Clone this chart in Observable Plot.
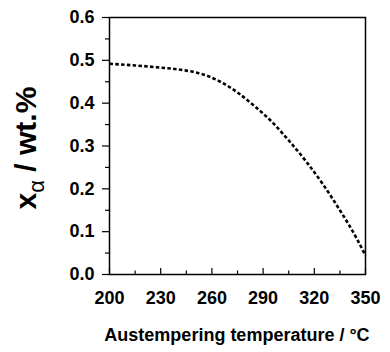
<!DOCTYPE html>
<html><head><meta charset="utf-8">
<script src="https://cdn.jsdelivr.net/npm/d3@7"></script>
<script src="https://cdn.jsdelivr.net/npm/@observablehq/plot@0.6"></script>
<style>
body{margin:0;background:#fff}
svg{font-family:"Liberation Sans",Arial,Helvetica,sans-serif}
svg text{font-weight:bold !important}
svg text tspan.sub{font-weight:normal !important}
</style>
</head><body><div id="chart"></div>
<script>
const temperature = [200, 215, 230, 245, 255, 265, 275, 285, 295, 305, 315, 325, 335, 345, 350];
const xAlpha      = [0.492, 0.488, 0.483, 0.476, 0.467, 0.450, 0.425, 0.393, 0.357, 0.313, 0.265, 0.211, 0.150, 0.083, 0.044];
const xTicks = [200, 230, 260, 290, 320, 350];
const xMinorTicks = [215, 245, 275, 305, 335];
const yTicks = [0, 0.1, 0.2, 0.3, 0.4, 0.5, 0.6];
const yMinorTicks = [0.05, 0.15, 0.25, 0.35, 0.45, 0.55];
const xLabel = "Austempering temperature / °C";
const yLabelMain = "x";
const yLabelSub = "α";
const yLabelRest = " / wt.%";

const data = temperature.map((t, i) => ({t, v: xAlpha[i]}));
const noText = () => "";
const plotH = 352 - 17 - 78;

const chart = Plot.plot({
  width: 390, height: 352,
  marginLeft: 109, marginRight: 25, marginTop: 17, marginBottom: 78,
  style: {fontSize: "18px", fontWeight: "bold", color: "#000"},
  x: {domain: [200, 350]},
  y: {domain: [0, 0.6]},
  marks: [
    Plot.frame({stroke: "#000", strokeWidth: 1.5}),
    Plot.axisY(yTicks, {tickSize: 7, tickPadding: 8, tickFormat: d3.format(".1f"), fontSize: 18, fontWeight: "bold", fill: "#000", stroke: "#000", strokeWidth: 1.2, label: null}),
    Plot.axisY(yMinorTicks, {tickSize: 4, tickFormat: noText, strokeWidth: 1.2, label: null}),
    Plot.tickX(xTicks, {x: d => d, stroke: "#000", strokeWidth: 1.2, insetTop: plotH - 6}),
    Plot.tickX(xMinorTicks, {x: d => d, stroke: "#000", strokeWidth: 1.2, insetTop: plotH - 3.5}),
    Plot.axisX(xTicks, {tickSize: 0, tickPadding: 17, fontSize: 18, fontWeight: "bold", fill: "#000", label: null}),
    Plot.line(data, {x: "t", y: "v", stroke: "#000", strokeWidth: 2.6, strokeDasharray: "3.5,2.3", strokeLinecap: "butt", curve: "monotone-x"})
  ]
});

const svg = d3.select(chart);
svg.append("text")
  .attr("x", 237).attr("y", 341)
  .attr("text-anchor", "middle")
  .style("font-size", "18px")
  .text(xLabel);

const yl = svg.append("text")
  .attr("transform", "translate(36,148) rotate(-90)")
  .attr("text-anchor", "middle")
  .style("font-size", "30px");
yl.append("tspan").text(yLabelMain);
yl.append("tspan").attr("class", "sub").attr("dy", 8).style("font-size", "22px").text(yLabelSub);
yl.append("tspan").attr("dy", -8).text(yLabelRest);

document.getElementById("chart").append(chart);
</script>
</body></html>
